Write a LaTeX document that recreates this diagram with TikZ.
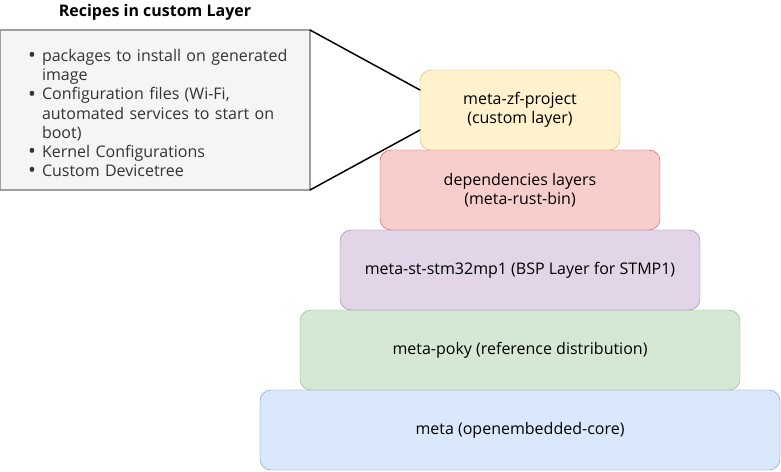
\documentclass[tikz,border=0pt]{standalone}
\usepackage{fontspec}
\setmainfont{Open Sans}
\usepackage{enumitem}
\usetikzlibrary{positioning,calc}
\definecolor{zfFill}{HTML}{FFF2CC}\definecolor{zfDraw}{HTML}{D6B656}
\definecolor{depFill}{HTML}{F8CECC}\definecolor{depDraw}{HTML}{B85450}
\definecolor{bspFill}{HTML}{E1D5E7}\definecolor{bspDraw}{HTML}{9673A6}
\definecolor{pokyFill}{HTML}{D5E8D4}\definecolor{pokyDraw}{HTML}{82B366}
\definecolor{coreFill}{HTML}{DAE8FC}\definecolor{coreDraw}{HTML}{6C8EBF}
\definecolor{noteFill}{HTML}{F5F5F5}\definecolor{noteDraw}{HTML}{9E9E9E}
\definecolor{noteText}{HTML}{333333}
\newcommand{\notebullet}{\raisebox{-1.2pt}{\fontsize{21}{19.2}\selectfont\textbullet}}
\tikzset{
	layer/.style={draw,rounded corners=11pt,minimum height=80pt,outer sep=0pt,
		align=center,inner sep=2pt},
	notebox/.style={draw=noteDraw,fill=noteFill,line width=1.2pt,outer sep=0pt,
		minimum width=310pt,minimum height=160pt,inner sep=0pt,text width=310pt,
		text=noteText},
}
\begin{document}
\begin{tikzpicture}[x=1pt,y=-1pt,line join=round,line cap=round,font=\fontsize{16}{19.2}\selectfont]
		\useasboundingbox (0,0) rectangle (781,471);
		% stack of layers, bottom up
		\node[layer,fill=coreFill,draw=coreDraw,minimum width=520pt] (core) at (520,430) {meta (openembedded-core)};
		\node[layer,fill=pokyFill,draw=pokyDraw,minimum width=440pt,above=0pt of core] (poky) {meta-poky (reference distribution)};
		\node[layer,fill=bspFill,draw=bspDraw,minimum width=360pt,above=0pt of poky] (bsp) {meta-st-stm32mp1 (BSP Layer for STMP1)};
		\node[layer,fill=depFill,draw=depDraw,minimum width=280pt,above=0pt of bsp] (dep) {dependencies layers\\(meta-rust-bin)};
		\node[layer,fill=zfFill,draw=zfDraw,minimum width=200pt,above=0pt of dep] (zf) {meta-zf-project\\(custom layer)};
		% note box
		\node[notebox,anchor=north west] (recipes) at (0,30) {%
			\begin{itemize}[label=\notebullet,leftmargin=42pt,labelsep=6pt,itemsep=0pt,topsep=0pt,parsep=0pt,partopsep=0pt]
				\item packages to install on generated\\image
				\item Configuration files (Wi-Fi,\\automated services to start on\\boot)
				\item Kernel Configurations
				\item Custom Devicetree
			\end{itemize}};
		\node[font=\fontsize{16}{19.2}\selectfont\bfseries] (title) at (155,12) {Recipes in custom Layer};
		\coordinate (zfup) at ($(zf.north west)!0.25!(zf.south west)$);
		\coordinate (zflow) at ($(zf.north west)!0.75!(zf.south west)$);
		\draw[line width=1.5pt] (recipes.north east) -- (zfup);
		\draw[line width=1.5pt] (recipes.south east) -- (zflow);
		\end{tikzpicture}
\end{document}
